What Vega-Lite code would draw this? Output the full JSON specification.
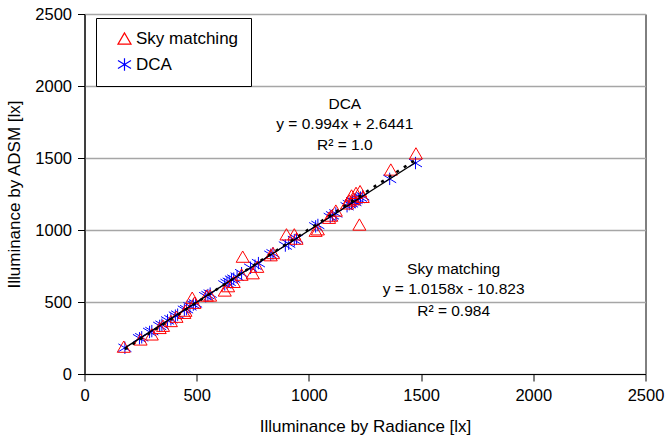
{
  "$schema": "https://vega.github.io/schema/vega-lite/v6.json",
  "width": 561,
  "height": 360,
  "autosize": {"type": "none"},
  "padding": {"left": 84.5, "top": 14, "right": 19.5, "bottom": 68},
  "background": "white",
  "config": {
    "font": "Liberation Sans",
    "view": {"stroke": "black", "strokeWidth": 1},
    "axis": {
      "domainColor": "black",
      "tickColor": "black",
      "tickSize": 7,
      "labelColor": "black",
      "labelFontSize": 16.5,
      "labelFont": "Liberation Sans",
      "titleFont": "Liberation Sans",
      "titleFontSize": 17,
      "titleFontWeight": "normal",
      "titleColor": "black",
      "labelFlush": false,
      "labelOverlap": false,
      "format": "d"
    }
  },
  "datasets": {
    "pts": [
      {"x": 180, "y": 182, "series": "DCA"},
      {"x": 245, "y": 248, "series": "DCA"},
      {"x": 255, "y": 255, "series": "DCA"},
      {"x": 290, "y": 292, "series": "DCA"},
      {"x": 300, "y": 298, "series": "DCA"},
      {"x": 335, "y": 334, "series": "DCA"},
      {"x": 345, "y": 342, "series": "DCA"},
      {"x": 370, "y": 372, "series": "DCA"},
      {"x": 385, "y": 380, "series": "DCA"},
      {"x": 405, "y": 405, "series": "DCA"},
      {"x": 415, "y": 412, "series": "DCA"},
      {"x": 445, "y": 446, "series": "DCA"},
      {"x": 455, "y": 450, "series": "DCA"},
      {"x": 470, "y": 470, "series": "DCA"},
      {"x": 485, "y": 482, "series": "DCA"},
      {"x": 495, "y": 490, "series": "DCA"},
      {"x": 540, "y": 540, "series": "DCA"},
      {"x": 550, "y": 548, "series": "DCA"},
      {"x": 560, "y": 558, "series": "DCA"},
      {"x": 625, "y": 622, "series": "DCA"},
      {"x": 635, "y": 632, "series": "DCA"},
      {"x": 645, "y": 640, "series": "DCA"},
      {"x": 655, "y": 655, "series": "DCA"},
      {"x": 665, "y": 662, "series": "DCA"},
      {"x": 680, "y": 676, "series": "DCA"},
      {"x": 700, "y": 700, "series": "DCA"},
      {"x": 740, "y": 738, "series": "DCA"},
      {"x": 760, "y": 752, "series": "DCA"},
      {"x": 775, "y": 770, "series": "DCA"},
      {"x": 830, "y": 828, "series": "DCA"},
      {"x": 840, "y": 838, "series": "DCA"},
      {"x": 895, "y": 892, "series": "DCA"},
      {"x": 910, "y": 905, "series": "DCA"},
      {"x": 935, "y": 930, "series": "DCA"},
      {"x": 945, "y": 940, "series": "DCA"},
      {"x": 1030, "y": 1025, "series": "DCA"},
      {"x": 1040, "y": 1035, "series": "DCA"},
      {"x": 1095, "y": 1090, "series": "DCA"},
      {"x": 1105, "y": 1102, "series": "DCA"},
      {"x": 1120, "y": 1115, "series": "DCA"},
      {"x": 1170, "y": 1165, "series": "DCA"},
      {"x": 1180, "y": 1180, "series": "DCA"},
      {"x": 1190, "y": 1185, "series": "DCA"},
      {"x": 1195, "y": 1200, "series": "DCA"},
      {"x": 1205, "y": 1195, "series": "DCA"},
      {"x": 1210, "y": 1210, "series": "DCA"},
      {"x": 1220, "y": 1215, "series": "DCA"},
      {"x": 1230, "y": 1225, "series": "DCA"},
      {"x": 1240, "y": 1235, "series": "DCA"},
      {"x": 1360, "y": 1355, "series": "DCA"},
      {"x": 1475, "y": 1465, "series": "DCA"},
      {"x": 175, "y": 190, "series": "Sky matching"},
      {"x": 250, "y": 240, "series": "Sky matching"},
      {"x": 300, "y": 275, "series": "Sky matching"},
      {"x": 335, "y": 320, "series": "Sky matching"},
      {"x": 350, "y": 335, "series": "Sky matching"},
      {"x": 385, "y": 368, "series": "Sky matching"},
      {"x": 410, "y": 398, "series": "Sky matching"},
      {"x": 445, "y": 425, "series": "Sky matching"},
      {"x": 450, "y": 440, "series": "Sky matching"},
      {"x": 480, "y": 530, "series": "Sky matching"},
      {"x": 490, "y": 495, "series": "Sky matching"},
      {"x": 545, "y": 545, "series": "Sky matching"},
      {"x": 560, "y": 545, "series": "Sky matching"},
      {"x": 625, "y": 580, "series": "Sky matching"},
      {"x": 640, "y": 610, "series": "Sky matching"},
      {"x": 665, "y": 640, "series": "Sky matching"},
      {"x": 705, "y": 815, "series": "Sky matching"},
      {"x": 700, "y": 690, "series": "Sky matching"},
      {"x": 750, "y": 700, "series": "Sky matching"},
      {"x": 770, "y": 745, "series": "Sky matching"},
      {"x": 830, "y": 825, "series": "Sky matching"},
      {"x": 840, "y": 840, "series": "Sky matching"},
      {"x": 900, "y": 970, "series": "Sky matching"},
      {"x": 935, "y": 970, "series": "Sky matching"},
      {"x": 945, "y": 940, "series": "Sky matching"},
      {"x": 1030, "y": 995, "series": "Sky matching"},
      {"x": 1040, "y": 1005, "series": "Sky matching"},
      {"x": 1090, "y": 1085, "series": "Sky matching"},
      {"x": 1100, "y": 1100, "series": "Sky matching"},
      {"x": 1120, "y": 1135, "series": "Sky matching"},
      {"x": 1170, "y": 1185, "series": "Sky matching"},
      {"x": 1180, "y": 1205, "series": "Sky matching"},
      {"x": 1190, "y": 1240, "series": "Sky matching"},
      {"x": 1200, "y": 1215, "series": "Sky matching"},
      {"x": 1210, "y": 1258, "series": "Sky matching"},
      {"x": 1228, "y": 1270, "series": "Sky matching"},
      {"x": 1240, "y": 1230, "series": "Sky matching"},
      {"x": 1225, "y": 1038, "series": "Sky matching"},
      {"x": 1365, "y": 1420, "series": "Sky matching"},
      {"x": 1477, "y": 1532, "series": "Sky matching"}
    ],
    "fitDCA": [
      {"x": 180, "y": 181.6},
      {"x": 1475, "y": 1468.8}
    ],
    "fitSky": [
      {"x": 180, "y": 172.0},
      {"x": 1475, "y": 1487.5}
    ],
    "notes": [
      {"x": 1160, "y": 1878, "label": "DCA"},
      {"x": 1160, "y": 1739, "label": "y = 0.994x + 2.6441"},
      {"x": 1160, "y": 1588, "label": "R² = 1.0"},
      {"x": 1645, "y": 731, "label": "Sky matching"},
      {"x": 1645, "y": 592, "label": "y = 1.0158x - 10.823"},
      {"x": 1645, "y": 440, "label": "R² = 0.984"}
    ]
  },
  "encoding": {
    "x": {
      "field": "x",
      "type": "quantitative",
      "scale": {"domain": [0, 2500], "nice": false, "zero": true},
      "axis": {
        "grid": false,
        "values": [0, 500, 1000, 1500, 2000, 2500],
        "labelPadding": 6,
        "title": "Illuminance by Radiance [lx]",
        "titleY": 52,
        "titleBaseline": "middle"
      }
    },
    "y": {
      "field": "y",
      "type": "quantitative",
      "scale": {"domain": [0, 2500], "nice": false, "zero": true},
      "axis": {
        "grid": true,
        "gridColor": "#a6a6a6",
        "gridWidth": 1.5,
        "values": [0, 500, 1000, 1500, 2000, 2500],
        "labelPadding": 6,
        "title": "Illuminance by ADSM [lx]",
        "titleX": -70,
        "titleY": 180,
        "titleAngle": -90,
        "titleAlign": "center",
        "titleBaseline": "middle"
      }
    }
  },
  "layer": [
    {
      "data": {"name": "pts"},
      "mark": {"type": "point", "filled": false, "strokeWidth": 1, "size": 170, "opacity": 1},
      "encoding": {
        "color": {
          "field": "series",
          "type": "nominal",
          "scale": {"domain": ["Sky matching", "DCA"], "range": ["#ff0000", "#0000ff"]},
          "legend": {
            "orient": "none",
            "legendX": 11.5,
            "legendY": 4,
            "title": null,
            "strokeColor": "black",
            "fillColor": "white",
            "padding": 12,
            "symbolOffset": 8,
            "labelFontSize": 17,
            "labelColor": "black",
            "labelFont": "Liberation Sans",
            "labelOffset": 3,
            "symbolSize": 170,
            "symbolStrokeWidth": 1.2,
            "rowPadding": 8
          }
        },
        "shape": {
          "field": "series",
          "type": "nominal",
          "scale": {"domain": ["Sky matching", "DCA"], "range": ["triangle-up", "M0,-0.95L0,0.95M-1,-0.6L1,0.6M-1,0.6L1,-0.6"]}
        }
      }
    },
    {
      "data": {"name": "fitDCA"},
      "mark": {"type": "line", "color": "black", "strokeWidth": 1.3},
      "encoding": {}
    },
    {
      "data": {"name": "fitSky"},
      "mark": {"type": "line", "color": "black", "strokeWidth": 2.5, "strokeDash": [3, 6]},
      "encoding": {}
    },
    {
      "data": {"name": "notes"},
      "mark": {"type": "text", "fontSize": 15.5, "font": "Liberation Sans", "color": "black", "align": "center", "baseline": "middle"},
      "encoding": {"text": {"field": "label"}}
    }
  ]
}
